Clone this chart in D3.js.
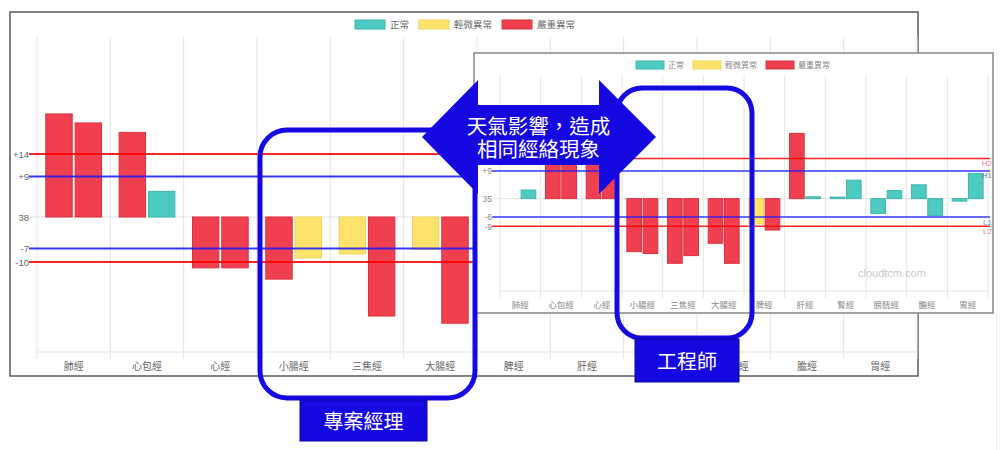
<!DOCTYPE html>
<html><head><meta charset="utf-8">
<script src="https://cdnjs.cloudflare.com/ajax/libs/d3/7.8.5/d3.min.js"></script>
<style>
html,body{margin:0;padding:0;background:#fff;}
svg{display:block;font-family:"Noto Sans CJK TC","Noto Sans",sans-serif;}
</style>
</head><body>
<svg id="c" width="1000" height="450"></svg>
<script>
// ---------------- DATA ----------------
const categories = ["肺經","心包經","心經","小腸經","三焦經","大腸經","脾經","肝經","腎經","膀胱經","膽經","胃經"];
const legendNames = ["正常","輕微異常","嚴重異常"];

// Back chart (專案經理) – deviation from base 38
const backLeftValues  = [22.9, 18.8, -11.3, -13.8, -8.2, -7.2, -9.0, 16.0, 3.0, -4.0, 5.0, 2.0];
const backRightValues = [20.9, 5.7, -11.3, -9.1, -22.0, -23.6, -12.0, 2.0, 6.0, 3.0, -5.0, 8.0];
const backLeftStatus  = [2, 2, 2, 2, 1, 1, 1, 2, 0, 0, 0, 0];
const backRightStatus = [2, 0, 2, 1, 2, 2, 2, 0, 0, 0, 0, 0];
const backTickValues  = [14, 9, 0, -7, -10];
const backTickLabels  = ["+14", "+9", "38", "-7", "-10"];
const backRefNames    = ["H2", "H1", "L1", "L2"];
const backRefValues   = [14, 9, -7, -10];

// Front chart (工程師) – deviation from base 35
const frontLeftValues  = [0, 30.2, 20.0, -17.2, -21.0, -14.5, -8.2, 21.2, 0.5, -4.8, 4.5, -0.8];
const frontRightValues = [2.8, 22.0, 15.0, -17.8, -18.5, -21.0, -10.2, 0.6, 6.0, 2.6, -5.5, 8.2];
const frontLeftStatus  = [0, 2, 2, 2, 2, 2, 1, 2, 0, 0, 0, 0];
const frontRightStatus = [0, 2, 2, 2, 2, 2, 2, 0, 0, 0, 0, 0];
const frontTickValues  = [9, 0, -6, -9];
const frontTickLabels  = ["+9", "35", "-6", "-9"];
const frontRefNames    = ["H2", "H1", "L1", "L2"];
const frontRefValues   = [13, 9, -6, -9];

const valueDomain = [-30, 40];

const arrowLines = ["天氣影響，造成", "相同經絡現象"];
const calloutLabels = ["專案經理", "工程師"];
const watermarkText = "cloudtcm.com";

// ---------------- STYLE ----------------
const statusFill   = ["#4dcac1", "#fde36c", "#f03f4f"];
const statusStroke = ["#3fb5ac", "#f2d35a", "#d9303f"];
const refColor = {H2: "rgba(255,0,0,0.85)", H1: "rgba(25,25,255,0.85)", L1: "rgba(25,25,255,0.85)", L2: "rgba(255,0,0,0.85)"};
const refLabelColor = {H2: "#f08080", H1: "#6a7fa0", L1: "#7a8fb0", L2: "#f08a8a"};
const annBlue = "#1608e1";

const svg = d3.select("#c");

function drawChart(cfg, data) {
  const g = svg.append("g");
  g.append("rect")
    .attr("x", cfg.frame.x).attr("y", cfg.frame.y)
    .attr("width", cfg.frame.w).attr("height", cfg.frame.h)
    .attr("fill", "#fff").attr("stroke", cfg.frameColor).attr("stroke-width", cfg.frameWidth);

  const x = d3.scaleBand().domain(categories).range([cfg.plot.left, cfg.plot.right]);
  const bw = x.bandwidth();
  const sub = d3.scaleBand().domain(["L", "R"]).range([0.1 * bw, 0.9 * bw]).paddingInner(0.1).paddingOuter(0.05);
  const y = d3.scaleLinear().domain(valueDomain).range([cfg.plot.bottom, cfg.plot.top]);

  const edges = categories.map(c => x(c)).concat([cfg.plot.right]);
  g.append("g").selectAll("line").data(edges).join("line")
    .attr("x1", d => d).attr("x2", d => d)
    .attr("y1", cfg.plot.top).attr("y2", cfg.plot.bottom + cfg.tick)
    .attr("stroke", cfg.gridColor).attr("stroke-width", 1);
  g.append("g").selectAll("line").data(data.ticks).join("line")
    .attr("x1", cfg.plot.left - cfg.tick).attr("x2", cfg.plot.right)
    .attr("y1", d => y(d)).attr("y2", d => y(d))
    .attr("stroke", cfg.gridColor).attr("stroke-width", 1);
  g.append("line")
    .attr("x1", cfg.plot.left).attr("x2", cfg.plot.right)
    .attr("y1", cfg.plot.bottom).attr("y2", cfg.plot.bottom)
    .attr("stroke", cfg.gridColor).attr("stroke-width", 1);

  const ya = g.append("g").attr("transform", `translate(${cfg.plot.left},0)`)
    .call(d3.axisLeft(y).tickValues(data.ticks).tickFormat((d, i) => data.tickLabels[i]).tickSize(0).tickPadding(cfg.yPad));
  ya.select(".domain").remove();
  ya.attr("font-family", null).attr("font-size", null);
  ya.selectAll("text").attr("font-size", cfg.yFont).attr("fill", cfg.textColor).attr("font-family", "Liberation Sans, Arial, sans-serif");

  const xa = g.append("g").attr("transform", `translate(0,${cfg.plot.bottom})`)
    .call(d3.axisBottom(x).tickSize(0).tickPadding(cfg.xPad));
  xa.select(".domain").remove();
  xa.attr("font-family", null).attr("font-size", null);
  xa.selectAll("text").attr("font-size", cfg.xFont).attr("fill", cfg.textColor);

  const bars = [];
  categories.forEach((c, i) => {
    bars.push({c, side: "L", v: data.left[i], s: data.leftStatus[i]});
    bars.push({c, side: "R", v: data.right[i], s: data.rightStatus[i]});
  });
  g.append("g").selectAll("rect").data(bars.filter(d => d.v !== 0)).join("rect")
    .attr("x", d => x(d.c) + sub(d.side))
    .attr("width", sub.bandwidth())
    .attr("y", d => y(Math.max(0, d.v)))
    .attr("height", d => Math.abs(y(d.v) - y(0)))
    .attr("fill", d => statusFill[d.s])
    .attr("stroke", d => statusStroke[d.s]).attr("stroke-width", 1);

  const refs = data.refNames.map((n, i) => ({n, v: data.refValues[i]}));
  g.append("g").selectAll("line").data(refs).join("line")
    .attr("x1", cfg.plot.left - cfg.tick - 1).attr("x2", cfg.refEnd)
    .attr("y1", d => y(d.v)).attr("y2", d => y(d.v))
    .attr("stroke", d => refColor[d.n]).attr("stroke-width", cfg.refWidth);
  if (cfg.refLabels) {
    g.append("g").selectAll("text").data(refs).join("text")
      .attr("x", cfg.refEnd + 2).attr("y", d => y(d.v) + 7.5)
      .attr("text-anchor", "end").attr("font-size", 8)
      .attr("font-family", "Liberation Sans, Arial, sans-serif")
      .attr("fill", d => refLabelColor[d.n]).text(d => d.n);
  }

  const lg = g.append("g");
  const items = legendNames.map((n, i) => ({n, i}));
  const tmp = lg.selectAll("text").data(items).join("text")
    .attr("font-size", cfg.legend.font).text(d => d.n);
  const widths = [];
  tmp.each(function() { widths.push(this.getComputedTextLength()); });
  let total = 0;
  widths.forEach((w, i) => { total += cfg.legend.box + cfg.legend.gap + w + (i < widths.length - 1 ? cfg.legend.spacing : 0); });
  let cx = cfg.legend.center - total / 2;
  items.forEach((d, i) => {
    d.x = cx; cx += cfg.legend.box + cfg.legend.gap + widths[i] + cfg.legend.spacing;
  });
  lg.selectAll("rect").data(items).join("rect")
    .attr("x", d => d.x).attr("y", cfg.legend.cy - cfg.legend.bh / 2)
    .attr("width", cfg.legend.box).attr("height", cfg.legend.bh)
    .attr("fill", d => statusFill[d.i]).attr("stroke", d => statusStroke[d.i]).attr("stroke-width", 1);
  tmp.attr("x", d => d.x + cfg.legend.box + cfg.legend.gap)
    .attr("y", cfg.legend.cy).attr("dy", "0.36em").attr("fill", cfg.textColor);

  if (cfg.watermark) {
    g.append("text").attr("x", cfg.watermark.x).attr("y", cfg.watermark.y)
      .attr("font-size", cfg.watermark.font).attr("fill", "#c8c8c8")
      .attr("font-family", "Liberation Sans, Arial, sans-serif")
      .text(watermarkText);
  }
}

drawChart({
  frame: {x: 10, y: 12, w: 908, h: 364}, frameColor: "#5a5a5a", frameWidth: 1.5,
  plot: {left: 37, right: 917, top: 37, bottom: 352}, tick: 7,
  gridColor: "#e3e3e3", textColor: "#666",
  yPad: 8, yFont: 9.5, xPad: 10.7, xFont: 10,
  refWidth: 2, refEnd: 917, refLabels: false,
  legend: {center: 465, cy: 24.5, box: 30, bh: 9, gap: 5, spacing: 10, font: 9.5}
}, {left: backLeftValues, right: backRightValues, leftStatus: backLeftStatus, rightStatus: backRightStatus,
    ticks: backTickValues, tickLabels: backTickLabels, refNames: backRefNames, refValues: backRefValues});

drawChart({
  frame: {x: 474, y: 53, w: 519, h: 260}, frameColor: "#858585", frameWidth: 1.5,
  plot: {left: 500, right: 988, top: 75.5, bottom: 291}, tick: 7,
  gridColor: "#e6e6e6", textColor: "#888",
  yPad: 8, yFont: 8.5, xPad: 11.3, xFont: 8.5,
  refWidth: 1.5, refEnd: 990, refLabels: true,
  legend: {center: 733, cy: 65, box: 28, bh: 8, gap: 4, spacing: 9, font: 8},
  watermark: {x: 858, y: 277, font: 11}
}, {left: frontLeftValues, right: frontRightValues, leftStatus: frontLeftStatus, rightStatus: frontRightStatus,
    ticks: frontTickValues, tickLabels: frontTickLabels, refNames: frontRefNames, refValues: frontRefValues});

svg.append("line").attr("x1", 996.5).attr("x2", 996.5).attr("y1", 313).attr("y2", 450)
  .attr("stroke", "#ececec").attr("stroke-width", 1);

// ---------------- ANNOTATIONS ----------------
const ann = svg.append("g");
ann.append("rect").attr("x", 260).attr("y", 130).attr("width", 215).attr("height", 268)
  .attr("rx", 27).attr("fill", "none").attr("stroke", annBlue).attr("stroke-width", 5);
ann.append("rect").attr("x", 617).attr("y", 88).attr("width", 135).attr("height", 250)
  .attr("rx", 25).attr("fill", "none").attr("stroke", annBlue).attr("stroke-width", 5);

const arrowPts = [[422,137],[478,80],[478,105],[599,105],[599,80],[656,137],[599,194],[599,165],[478,165],[478,194]];
ann.append("path").attr("d", d3.line()(arrowPts) + "Z").attr("fill", annBlue);
const at = ann.append("text").attr("text-anchor", "middle").attr("font-size", 20.5).attr("fill", "#fff");
at.selectAll("tspan").data(arrowLines).join("tspan")
  .attr("x", 538.5).attr("y", (d, i) => 133.5 + i * 23)
  .text(d => d);

const boxes = [
  {x: 300, y: 400, w: 127, h: 41, tx: 363.5, ty: 428.5, t: calloutLabels[0]},
  {x: 635, y: 339, w: 104, h: 43, tx: 687, ty: 369, t: calloutLabels[1]}
];
ann.selectAll("rect.lb").data(boxes).join("rect").attr("class", "lb")
  .attr("x", d => d.x).attr("y", d => d.y).attr("width", d => d.w).attr("height", d => d.h)
  .attr("fill", annBlue).attr("stroke", "#0c0698").attr("stroke-width", 1);
ann.selectAll("text.lt").data(boxes).join("text").attr("class", "lt")
  .attr("x", d => d.tx).attr("y", d => d.ty).attr("text-anchor", "middle")
  .attr("font-size", 20).attr("fill", "#fff").text(d => d.t);
</script>
</body></html>
